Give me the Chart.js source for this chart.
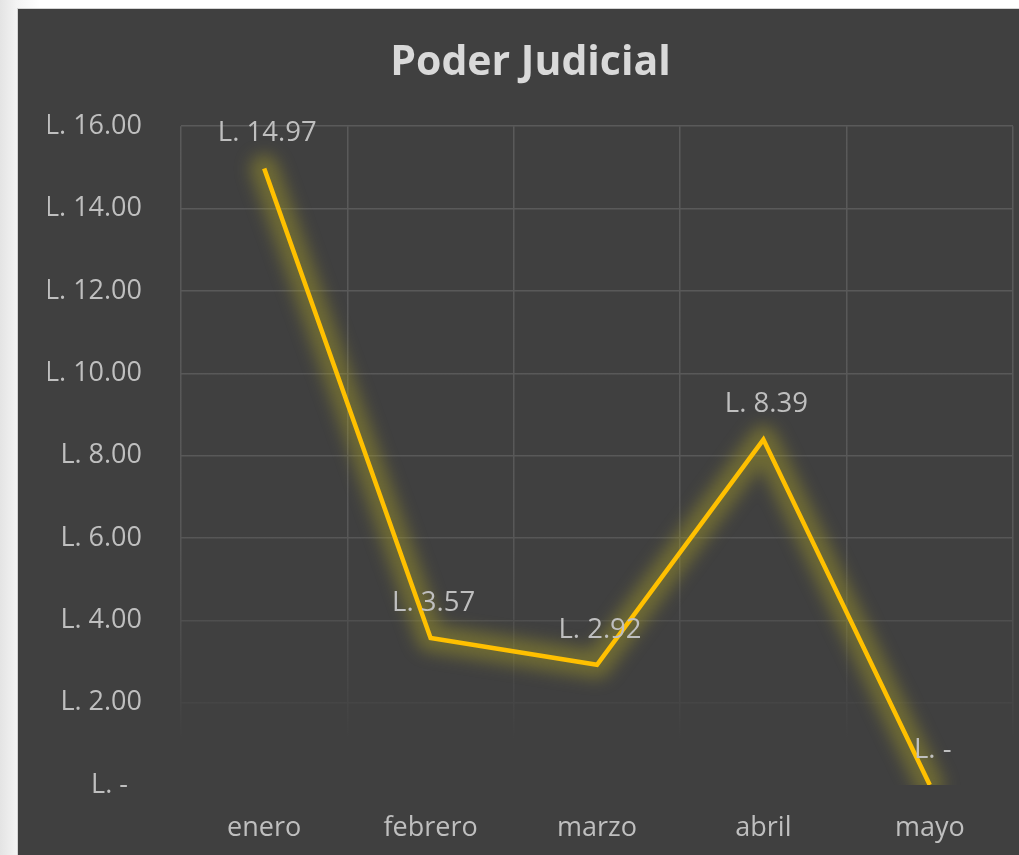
<!DOCTYPE html>
<html>
<head>
<meta charset="utf-8">
<script src="https://cdn.jsdelivr.net/npm/chart.js@4/dist/chart.umd.min.js"></script>
<style>
	html, body { margin: 0; padding: 0; overflow: hidden; }
	body {
		width: 1019px;
		height: 855px;
		background: linear-gradient(to right, #e4e4e4 0px, #f4f4f4 17px, #ffffff 40px);
		position: relative;
	}
	#panel {
		position: absolute;
		left: 17px;
		top: 8px;
		width: 1026px;
		height: 847px;
		background: #404040;
		border-top: 1px solid #d4d4d4;
		border-left: 1px solid #d4d4d4;
		box-sizing: border-box;
	}
	#panel canvas { display: block; }
</style>
</head>
<body>
<div id="panel"><canvas id="chart" width="1025" height="846"></canvas></div>
<script>
// Poder Judicial - monthly amounts (Lempiras)
const months = ["enero", "febrero", "marzo", "abril", "mayo"];
const amounts = [14.97, 3.57, 2.92, 8.39, 0];
const yMin = 0;
const yMax = 16;
const yStep = 2;

const TEXT = "#bfbfbf";
const FONT = "'Open Sans', sans-serif";

function money(v) {
	return v === 0 ? "L. -" : "L. " + v.toFixed(2);
}

// fade grid lines toward the bottom of the plot
function gridColor(c) {
	const area = c.chart.chartArea;
	if (!area) return "#595959";
	const g = c.chart.ctx.createLinearGradient(0, area.top, 0, area.bottom);
	g.addColorStop(0, "#5a5a5a");
	g.addColorStop(0.6, "#585858");
	g.addColorStop(0.75, "#4f4f4f");
	g.addColorStop(0.88, "#454545");
	g.addColorStop(0.93, "#404040");
	g.addColorStop(1, "#404040");
	return g;
}

// soft olive halo behind the line, following the dataset's own points
const glow = {
	id: "glow",
	beforeDatasetDraw(chart) {
		const ctx = chart.ctx;
		const pts = chart.getDatasetMeta(0).data;
		const a = chart.chartArea;
		ctx.save();
		ctx.beginPath();
		ctx.rect(a.left, a.top - 30, a.right - a.left, a.bottom - a.top + 30);
		ctx.clip();
		ctx.filter = "blur(8px)";
		ctx.strokeStyle = "rgba(175, 165, 35, 0.42)";
		ctx.lineWidth = 28;
		ctx.lineJoin = "round";
		ctx.lineCap = "round";
		ctx.beginPath();
		pts.forEach((p, i) => (i ? ctx.lineTo(p.x, p.y) : ctx.moveTo(p.x, p.y)));
		ctx.stroke();
		ctx.restore();
	},
};

const valueLabels = {
	id: "valueLabels",
	afterDatasetsDraw(chart) {
		const ctx = chart.ctx;
		const meta = chart.getDatasetMeta(0);
		ctx.save();
		ctx.font = "27.5px " + FONT;
		ctx.fillStyle = TEXT;
		ctx.textAlign = "center";
		ctx.textBaseline = "middle";
		meta.data.forEach((pt, i) => {
			ctx.fillText(money(amounts[i]), pt.x + 3, pt.y - 35);
		});
		ctx.restore();
	},
};

new Chart(document.getElementById("chart"), {
	type: "line",
	data: {
		labels: months,
		datasets: [
			{
				data: amounts,
				borderColor: "#ffc000",
				borderWidth: 4.5,
				tension: 0,
				pointRadius: 0,
				pointHoverRadius: 0,
				fill: false,
			},
		],
	},
	options: {
		responsive: false,
		animation: false,
		layout: { padding: { top: 0, right: 30, bottom: 0, left: 30 } },
		plugins: {
			legend: { display: false },
			tooltip: { enabled: false },
			title: {
				display: true,
				text: "Poder Judicial",
				color: "#d9d9d9",
				font: { family: FONT, size: 41, weight: "bold", lineHeight: 1.2 },
				padding: { top: 30, bottom: 38 },
			},
		},
		scales: {
			x: {
				offset: true,
				border: { display: false },
				grid: { offset: true, color: gridColor, lineWidth: 1.5, drawTicks: false },
				ticks: { color: TEXT, font: { family: FONT, size: 27 }, padding: 27, maxRotation: 0 },
				afterFit: (s) => { s.height = 70; },
			},
			y: {
				min: yMin,
				max: yMax,
				border: { display: false },
				grid: { color: gridColor, lineWidth: 1.5, drawTicks: false },
				ticks: {
					stepSize: yStep,
					color: TEXT,
					font: { family: FONT, size: 27 },
					padding: 39,
					callback: (v) => (v === 0 ? "L. -  " : money(v)),
				},
				afterFit: (s) => { s.width = 133; },
			},
		},
	},
	plugins: [glow, valueLabels],
});
</script>
</body>
</html>
